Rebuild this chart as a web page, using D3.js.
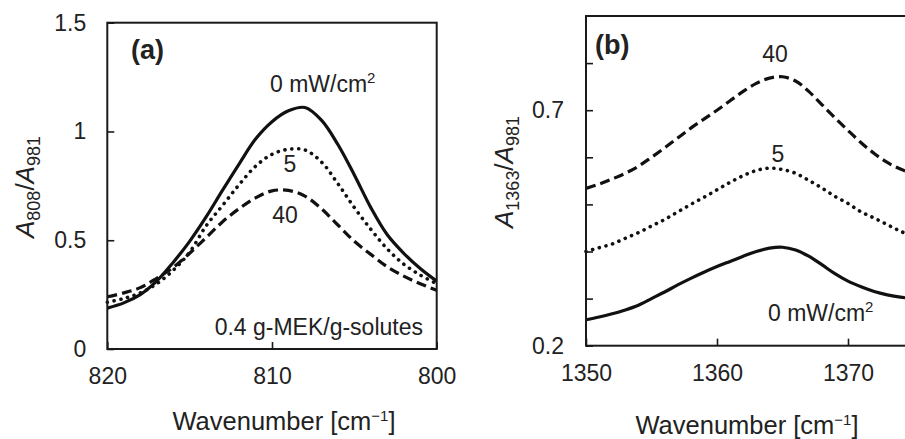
<!DOCTYPE html>
<html>
<head>
<meta charset="utf-8">
<script src="https://cdn.jsdelivr.net/npm/d3@7"></script>
<style>
body { margin: 0; background: #fff; }
text { font-family: "Liberation Sans", Arial, sans-serif; fill: #222; }
</style>
</head>
<body>
<script>
var width  = 905;
var height = 439;

// panel (a): A808/A981 vs wavenumber (820 -> 800)
var wnA   = [820, 819, 818, 817, 816, 815, 814, 813, 812, 811, 810, 809, 808, 807, 806, 805, 804, 803, 802, 801, 800];
var a0mW  = [0.188, 0.212, 0.250, 0.312, 0.398, 0.495, 0.607, 0.730, 0.850, 0.965, 1.045, 1.095, 1.110, 1.052, 0.940, 0.800, 0.650, 0.525, 0.440, 0.370, 0.312];
var a5mW  = [0.215, 0.232, 0.258, 0.300, 0.362, 0.445, 0.566, 0.660, 0.755, 0.840, 0.895, 0.918, 0.915, 0.860, 0.760, 0.650, 0.550, 0.460, 0.390, 0.340, 0.300];
var a40mW = [0.240, 0.258, 0.282, 0.325, 0.375, 0.440, 0.512, 0.585, 0.645, 0.695, 0.727, 0.729, 0.703, 0.645, 0.570, 0.495, 0.435, 0.378, 0.335, 0.300, 0.270];
var ticksXA = [820, 810, 800];
var ticksYA = [0, 0.5, 1, 1.5];

// panel (b): A1363/A981 vs wavenumber (1350 -> 1380)
var wnB   = [1350, 1351, 1352, 1353, 1354, 1355, 1356, 1357, 1358, 1359, 1360, 1361, 1362, 1363, 1364, 1365, 1366, 1367, 1368, 1369, 1370, 1371, 1372, 1373, 1374, 1375];
var b0mW  = [0.255, 0.261, 0.268, 0.276, 0.286, 0.300, 0.314, 0.329, 0.343, 0.356, 0.368, 0.379, 0.390, 0.400, 0.407, 0.409, 0.403, 0.390, 0.372, 0.353, 0.337, 0.325, 0.315, 0.308, 0.303, 0.300];
var b5mW  = [0.400, 0.408, 0.416, 0.428, 0.440, 0.454, 0.468, 0.484, 0.500, 0.515, 0.531, 0.547, 0.561, 0.572, 0.577, 0.574, 0.566, 0.551, 0.535, 0.517, 0.502, 0.484, 0.471, 0.457, 0.443, 0.432];
var b40mW = [0.534, 0.543, 0.554, 0.566, 0.581, 0.600, 0.620, 0.641, 0.662, 0.681, 0.700, 0.720, 0.740, 0.757, 0.768, 0.771, 0.762, 0.740, 0.712, 0.684, 0.657, 0.631, 0.608, 0.589, 0.575, 0.565];
var ticksXB  = [1350, 1360, 1370];
var ticksYB  = [0.2, 0.3, 0.4, 0.5, 0.6, 0.7, 0.8];
var labelsYB = [0.2, 0.7];

var svg = d3.select("body").append("svg").attr("width", width).attr("height", height);

var styles = {
	solid:  { dash: null,      width: 3.2, cap: "butt" },
	dotted: { dash: "0.1 6.8", width: 3.6, cap: "round" },
	dashed: { dash: "10 5",    width: 3.2, cap: "butt" }
};

function drawPanel(o) {
	var x = d3.scaleLinear().domain(o.xDomain).range(o.xRange);
	var y = d3.scaleLinear().domain(o.yDomain).range(o.yRange);
	var g = svg.append("g");

	var ax = g.append("g").attr("transform", "translate(0," + o.yRange[0] + ")")
		.call(d3.axisBottom(x).tickValues(o.xTicks).tickSizeInner(-7).tickSizeOuter(0).tickPadding(19).tickFormat(function(d){ return String(d); }));
	var ay = g.append("g").attr("transform", "translate(" + o.xRange[0] + ",0)")
		.call(d3.axisLeft(y).tickValues(o.yTicks).tickSizeInner(-7).tickSizeOuter(0).tickPadding(o.yPad).tickFormat(o.yFormat));
	[ax, ay].forEach(function(a){
		a.attr("color", "#1a1a1a");
		a.select(".domain").remove();
		a.selectAll("line").attr("stroke-width", 1.6);
		a.selectAll("text").style("font-size", "23px");
	});

	var line = d3.line()
		.x(function(d){ return x(d[0]); })
		.y(function(d){ return y(d[1]); })
		.curve(d3.curveCatmullRom.alpha(0.5));

	o.series.forEach(function(s){
		var st = styles[s.style];
		g.append("path")
			.datum(d3.zip(o.wn, s.values))
			.attr("fill", "none")
			.attr("stroke", "#111")
			.attr("stroke-width", st.width)
			.attr("stroke-linecap", st.cap)
			.attr("stroke-dasharray", st.dash)
			.attr("d", line);
	});

	g.append("rect")
		.attr("x", o.xRange[0]).attr("y", o.yRange[1])
		.attr("width", o.xRange[1] - o.xRange[0]).attr("height", o.yRange[0] - o.yRange[1])
		.attr("fill", "none").attr("stroke", "#1a1a1a").attr("stroke-width", 2);

	// x title
	var xt = g.append("text").attr("x", o.xTitle[0]).attr("y", o.xTitle[1])
		.attr("text-anchor", "middle").style("font-size", "25.5px");
	xt.append("tspan").text("Wavenumber [cm");
	xt.append("tspan").attr("dy", -9).style("font-size", "15px").text("\u22121");
	xt.append("tspan").attr("dy", 9).text("]");

	// y title
	var yt = g.append("text")
		.attr("transform", "translate(" + o.yTitle[0] + "," + o.yTitle[1] + ") rotate(-90)")
		.attr("text-anchor", "middle").style("font-size", "26px");
	yt.append("tspan").style("font-style", "italic").text("A");
	yt.append("tspan").attr("dy", 6).style("font-size", "18px").text(o.yNum);
	yt.append("tspan").attr("dy", -6).text("/");
	yt.append("tspan").style("font-style", "italic").text("A");
	yt.append("tspan").attr("dy", 6).style("font-size", "18px").text("981");

	// panel letter
	g.append("text").attr("x", o.letter[0]).attr("y", o.letter[1])
		.style("font-size", "27px").style("font-weight", "bold").text(o.letter[2]);

	o.notes.forEach(function(n){
		var t = g.append("text").attr("x", n.x).attr("y", n.y)
			.attr("text-anchor", n.anchor || "start").style("font-size", "23px");
		t.append("tspan").text(n.text);
		if (n.sup) t.append("tspan").attr("dy", -9).style("font-size", "15px").text(n.sup);
	});
}

drawPanel({
	xDomain: [820, 800], xRange: [107.3, 436.7],
	yDomain: [0, 1.5],   yRange: [349, 22.7],
	xTicks: ticksXA, yTicks: ticksYA, yPad: 21,
	yFormat: function(d){ return String(d); },
	wn: wnA,
	series: [
		{ values: a0mW,  style: "solid" },
		{ values: a5mW,  style: "dotted" },
		{ values: a40mW, style: "dashed" }
	],
	xTitle: [284, 430], yTitle: [34, 187], yNum: "808",
	letter: [131, 59, "(a)"],
	notes: [
		{ x: 270, y: 92,  text: "0 mW/cm", sup: "2" },
		{ x: 290, y: 172, text: "5",  anchor: "middle" },
		{ x: 285, y: 223, text: "40", anchor: "middle" },
		{ x: 423, y: 335, text: "0.4 g-MEK/g-solutes", anchor: "end" }
	]
});

drawPanel({
	xDomain: [1350, 1380], xRange: [586, 979],
	yDomain: [0.2, 0.9],   yRange: [345.7, 16],
	xTicks: ticksXB, yTicks: ticksYB, yPad: 22,
	yFormat: function(d){ return labelsYB.some(function(v){ return Math.abs(v - d) < 1e-9; }) ? d3.format(".1f")(d) : ""; },
	wn: wnB,
	series: [
		{ values: b0mW,  style: "solid" },
		{ values: b5mW,  style: "dotted" },
		{ values: b40mW, style: "dashed" }
	],
	xTitle: [747, 434], yTitle: [513, 172], yNum: "1363",
	letter: [595, 54, "(b)"],
	notes: [
		{ x: 775, y: 62,  text: "40", anchor: "middle" },
		{ x: 778, y: 162, text: "5",  anchor: "middle" },
		{ x: 768, y: 321, text: "0 mW/cm", sup: "2" }
	]
});
</script>
</body>
</html>
